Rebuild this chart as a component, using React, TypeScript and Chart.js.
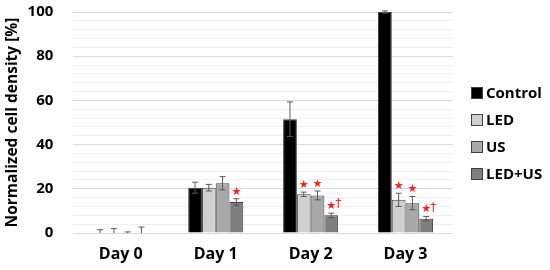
import { useEffect, useRef } from 'react';
import { Chart, registerables } from 'chart.js';
Chart.register(...registerables);

const categories = ['Day 0', 'Day 1', 'Day 2', 'Day 3'];
const seriesNames = ['Control', 'LED', 'US', 'LED+US'];
const controlValues = [0, 20.5, 51.5, 100];
const ledValues = [0, 20.5, 17.5, 15];
const usValues = [0, 22.5, 17, 13.5];
const ledUsValues = [0, 14, 8, 6.5];
const controlErr = [1.5, 2.5, 7.8, 0.5];
const ledErr = [2, 1.5, 1, 3];
const usErr = [0.5, 3, 2, 3];
const ledUsErr = [2.7, 1.5, 1, 1];
const controlMarks = ['', '', '', ''];
const ledMarks = ['', '', '*', '*'];
const usMarks = ['', '', '*', '*'];
const ledUsMarks = ['', '*', '*†', '*†'];
const yTickLabels = [0, 20, 40, 60, 80, 100];

const colors = ['#000000', '#d0d0d0', '#a9a9a9', '#7f7f7f'];
const FONT = "'Open Sans', 'DejaVu Sans', sans-serif";

const errorPlugin = {
  id: 'errBars',
  afterDatasetsDraw(chart: any) {
    const ctx = chart.ctx;
    const y = chart.scales.y;
    const area = chart.chartArea;
    chart.data.datasets.forEach((ds: any, di: number) => {
      const meta = chart.getDatasetMeta(di);
      meta.data.forEach((bar: any, i: number) => {
        const v = ds.data[i];
        const e = ds.err[i];
        const yt = y.getPixelForValue(v + e);
        const yb = Math.min(area.bottom, y.getPixelForValue(v - e));
        ctx.save();
        ctx.strokeStyle = '#595959';
        ctx.lineWidth = 1;
        ctx.beginPath();
        ctx.moveTo(bar.x, yt);
        ctx.lineTo(bar.x, yb);
        ctx.moveTo(bar.x - 3, yt);
        ctx.lineTo(bar.x + 3, yt);
        if (yb < area.bottom) {
          ctx.moveTo(bar.x - 3, yb);
          ctx.lineTo(bar.x + 3, yb);
        }
        ctx.stroke();
        const m = ds.marks[i];
        if (m) {
          ctx.fillStyle = '#ff2020';
          ctx.textAlign = 'center';
          ctx.textBaseline = 'middle';
          ctx.font = "11px 'DejaVu Sans'";
          ctx.fillText('★', bar.x, yt - 7);
          if (m.includes('†')) {
            ctx.font = "12px 'DejaVu Sans'";
            ctx.fillText('†', bar.x + 7, yt - 9);
          }
        }
        ctx.restore();
      });
    });
  },
};

const legendPlugin = {
  id: 'customLegend',
  afterDraw(chart: any) {
    const ctx = chart.ctx;
    const area = chart.chartArea;
    const x0 = area.right + 18;
    const spacing = 27;
    const n = chart.data.datasets.length;
    const cy = (area.top + area.bottom) / 2 + 11;
    ctx.save();
    chart.data.datasets.forEach((ds: any, i: number) => {
      const yc = cy + (i - (n - 1) / 2) * spacing;
      ctx.fillStyle = ds.backgroundColor;
      ctx.fillRect(x0, yc - 6, 12, 12);
      ctx.strokeStyle = '#404040';
      ctx.lineWidth = 1;
      ctx.strokeRect(x0 + 0.5, yc - 5.5, 11, 11);
      ctx.fillStyle = '#000';
      ctx.font = `bold 15px ${FONT}`;
      ctx.textAlign = 'left';
      ctx.textBaseline = 'middle';
      ctx.fillText(ds.label, x0 + 15, yc + 1);
    });
    ctx.restore();
  },
};

export default function App() {
  const ref = useRef<HTMLCanvasElement>(null);
  useEffect(() => {
    document.body.style.margin = '0';
    const values = [controlValues, ledValues, usValues, ledUsValues];
    const errs = [controlErr, ledErr, usErr, ledUsErr];
    const marks = [controlMarks, ledMarks, usMarks, ledUsMarks];
    const chart = new Chart(ref.current!, {
      type: 'bar',
      data: {
        labels: categories,
        datasets: seriesNames.map((name, i) => ({
          label: name,
          data: values[i],
          err: errs[i],
          marks: marks[i],
          backgroundColor: colors[i],
          borderColor: '#404040',
          borderWidth: 1,
          categoryPercentage: 0.58,
          barPercentage: 1.0,
        })) as any,
      },
      options: {
        animation: false,
        responsive: false,
        maintainAspectRatio: false,
        layout: { padding: { top: 0, right: 97, left: 3, bottom: 0 } },
        plugins: { legend: { display: false }, tooltip: { enabled: false } },
        scales: {
          x: {
            grid: { display: false, drawTicks: false },
            border: { display: false },
            afterFit: (s: any) => {
              s.height = 37;
            },
            ticks: { color: '#000', font: { family: FONT, size: 16, weight: 'bold' }, padding: 12 },
          },
          y: {
            min: 0,
            max: 100,
            border: { display: false },
            grid: {
              drawTicks: true,
              tickLength: 17,
              tickColor: 'rgba(0,0,0,0)',
              color: (c: any) => (c.tick && c.tick.value % 20 === 0 ? '#d9d9d9' : '#f0f0f0'),
            },
            ticks: {
              stepSize: 4,
              autoSkip: false,
              padding: 3,
              color: '#000',
              font: { family: FONT, size: 15, weight: 'bold' },
              callback: (v: any) => (yTickLabels.includes(v) ? String(v) : ''),
            },
            title: {
              display: true,
              text: 'Normalized cell density [%]',
              color: '#000',
              font: { family: FONT, size: 15.5, weight: 'bold' },
              padding: { top: 0, bottom: 3 },
            },
          },
        },
      },
      plugins: [errorPlugin, legendPlugin],
    });
    return () => chart.destroy();
  }, []);
  return <canvas ref={ref} width={550} height={270} style={{ display: 'block' }} />;
}
